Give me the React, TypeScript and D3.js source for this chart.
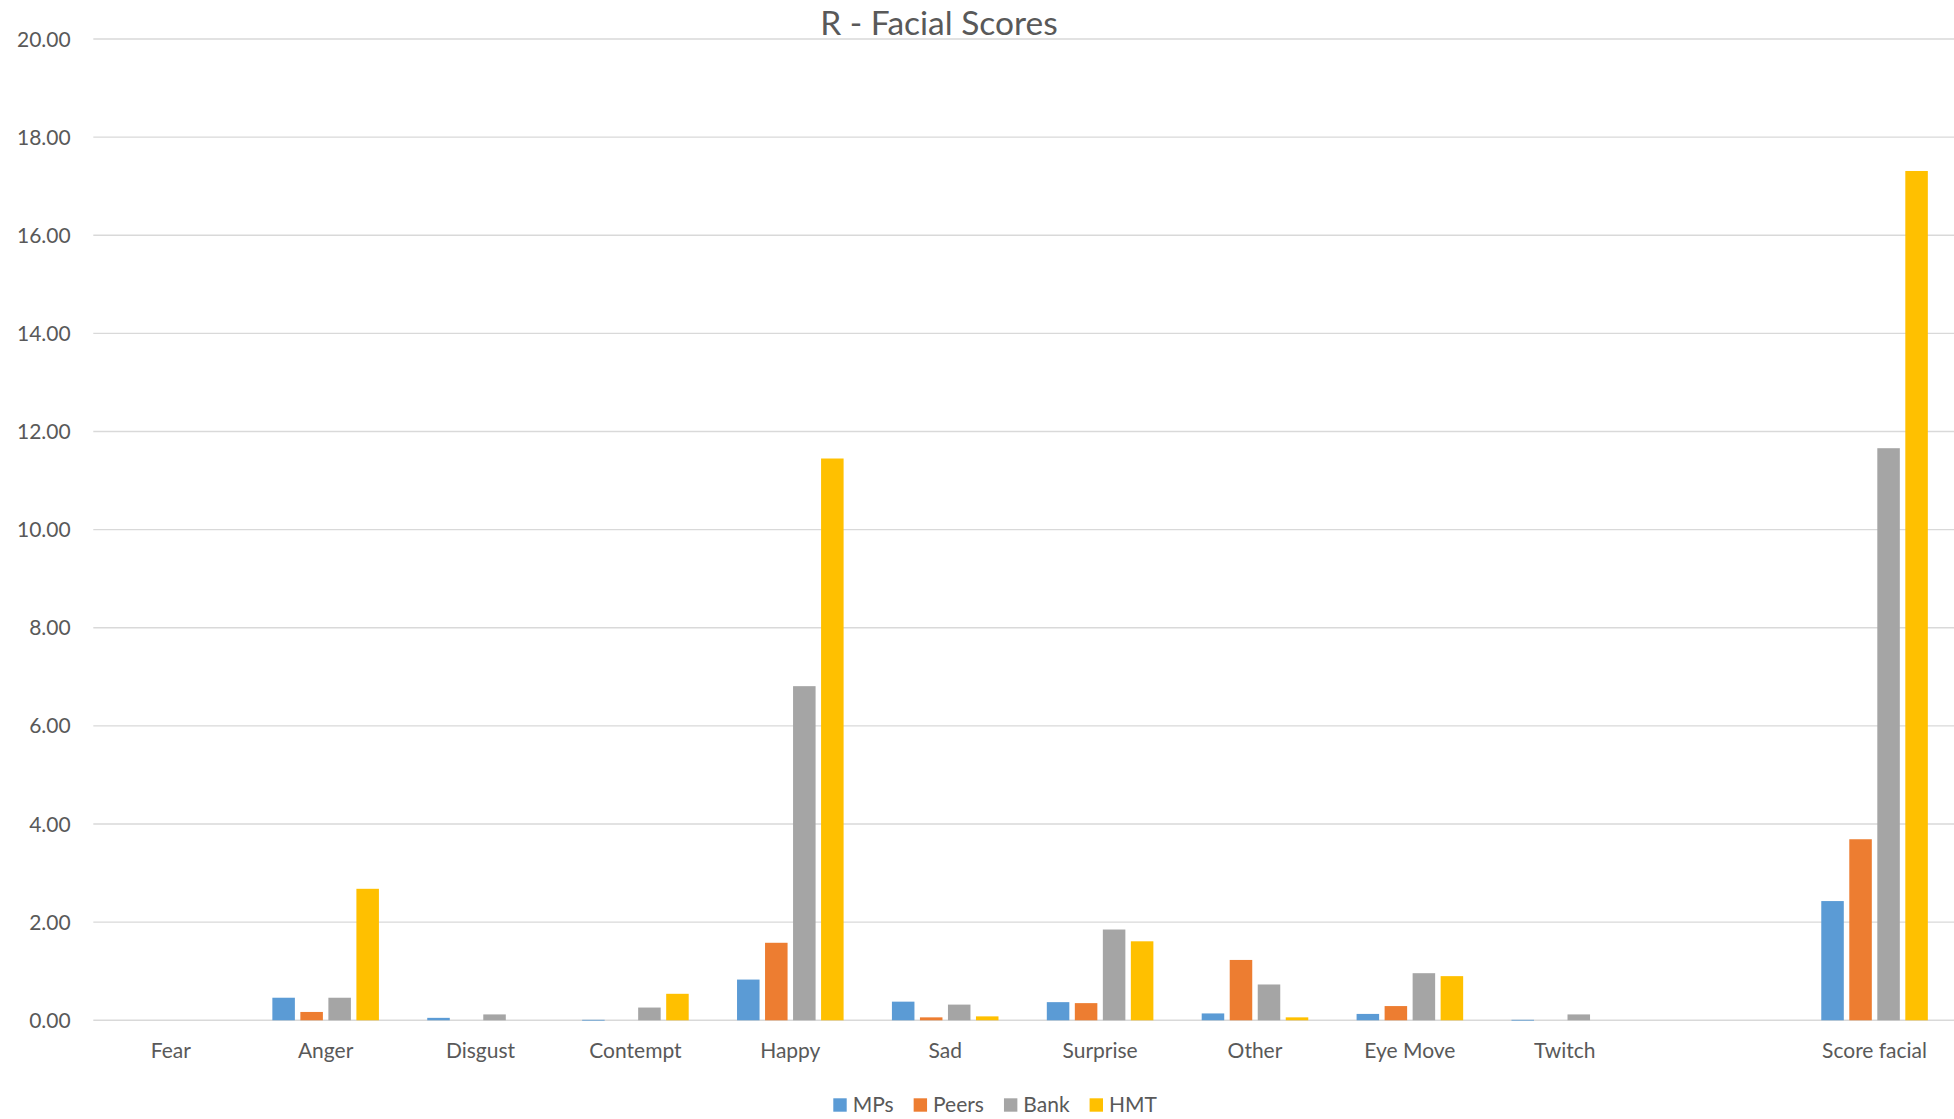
import React, { useEffect, useRef } from "react";
import * as d3 from "d3";

const categories = ["Fear", "Anger", "Disgust", "Contempt", "Happy", "Sad", "Surprise", "Other", "Eye Move", "Twitch", "", "Score facial"];
const seriesNames = ["MPs", "Peers", "Bank", "HMT"];
const mps = [0, 0.46, 0.05, 0.01, 0.83, 0.38, 0.37, 0.14, 0.13, 0.01, null, 2.43];
const peers = [0, 0.17, 0, 0, 1.58, 0.06, 0.35, 1.23, 0.29, 0, null, 3.69];
const bank = [0, 0.46, 0.12, 0.26, 6.81, 0.32, 1.85, 0.73, 0.96, 0.12, null, 11.66];
const hmt = [0, 2.68, 0, 0.54, 11.45, 0.08, 1.61, 0.06, 0.9, 0, null, 17.31];
const yTicks = [0, 2, 4, 6, 8, 10, 12, 14, 16, 18, 20];
const title = "R - Facial Scores";
const colors = ["#5B9BD5", "#ED7D31", "#A5A5A5", "#FFC000"];

const W = 1954;
const H = 1119;
const FONT = "Lato, 'Open Sans', sans-serif";
const TEXT = "#595959";

export default function App() {
  const ref = useRef<SVGSVGElement | null>(null);

  useEffect(() => {
    const svg = d3.select(ref.current);
    svg.selectAll("*").remove();

    const series = [mps, peers, bank, hmt];
    const left = 93.3;
    const right = 1952;
    const y0 = 1020.3;
    const yTop = 39;

    const x0 = d3.scaleBand<string>().domain(categories.map((c, i) => String(i))).range([left, right]).paddingInner(0).paddingOuter(0);
    const groupW = x0.bandwidth() * 0.688;
    const x1 = d3.scaleBand<string>().domain(seriesNames).range([0, groupW]).paddingInner(0.196).paddingOuter(0);
    const y = d3.scaleLinear().domain([0, 20]).range([y0, yTop]);

    // gridlines
    svg.append("g")
      .selectAll("line")
      .data(yTicks)
      .join("line")
      .attr("x1", left)
      .attr("x2", W)
      .attr("y1", (d) => y(d))
      .attr("y2", (d) => y(d))
      .attr("stroke", "#D9D9D9")
      .attr("stroke-width", 1.4);

    // y labels
    svg.append("g")
      .selectAll("text")
      .data(yTicks)
      .join("text")
      .attr("x", 70.7)
      .attr("y", (d) => y(d))
      .attr("dy", "0.36em")
      .attr("text-anchor", "end")
      .attr("font-family", FONT)
      .attr("font-size", 21)
      .attr("fill", TEXT)
      .text((d) => d3.format(".2f")(d));

    // bars
    const groups = svg.append("g")
      .selectAll("g")
      .data(categories.map((c, i) => i))
      .join("g")
      .attr("transform", (i) => `translate(${(x0(String(i)) as number) + (x0.bandwidth() - groupW) / 2},0)`);

    groups.selectAll("rect")
      .data((i) => seriesNames.map((s, k) => ({ s, k, v: series[k][i] })).filter((d) => d.v !== null && (d.v as number) > 0))
      .join("rect")
      .attr("x", (d) => x1(d.s) as number)
      .attr("width", x1.bandwidth())
      .attr("y", (d) => y(d.v as number))
      .attr("height", (d) => Math.max(0.8, y0 - y(d.v as number)))
      .attr("fill", (d) => colors[d.k]);

    // x labels
    svg.append("g")
      .selectAll("text")
      .data(categories.map((c, i) => ({ c, i })))
      .join("text")
      .attr("x", (d) => (x0(String(d.i)) as number) + x0.bandwidth() / 2)
      .attr("y", 1058.3)
      .attr("text-anchor", "middle")
      .attr("font-family", FONT)
      .attr("font-size", 21)
      .attr("fill", TEXT)
      .text((d) => d.c);

    // title
    svg.append("text")
      .attr("x", 939)
      .attr("y", 35)
      .attr("text-anchor", "middle")
      .attr("font-family", FONT)
      .attr("font-size", 33.5)
      .attr("fill", TEXT)
      .text(title);

    // legend
    const lg = svg.append("g");
    let lx = 833.3;
    seriesNames.forEach((s, k) => {
      lg.append("rect")
        .attr("x", lx)
        .attr("y", 1098.3)
        .attr("width", 13.4)
        .attr("height", 13.4)
        .attr("fill", colors[k]);
      const t = lg.append("text")
        .attr("x", lx + 19.4)
        .attr("y", 1112)
        .attr("font-family", FONT)
        .attr("font-size", 21)
        .attr("fill", TEXT)
        .text(s);
      const tw = (t.node() as SVGTextElement).getComputedTextLength();
      lx = lx + 19.4 + tw + 20;
    });
  }, []);

  return (
    <svg
      ref={ref}
      width={W}
      height={H}
      style={{ position: "absolute", left: 0, top: 0, background: "#fff" }}
    />
  );
}
